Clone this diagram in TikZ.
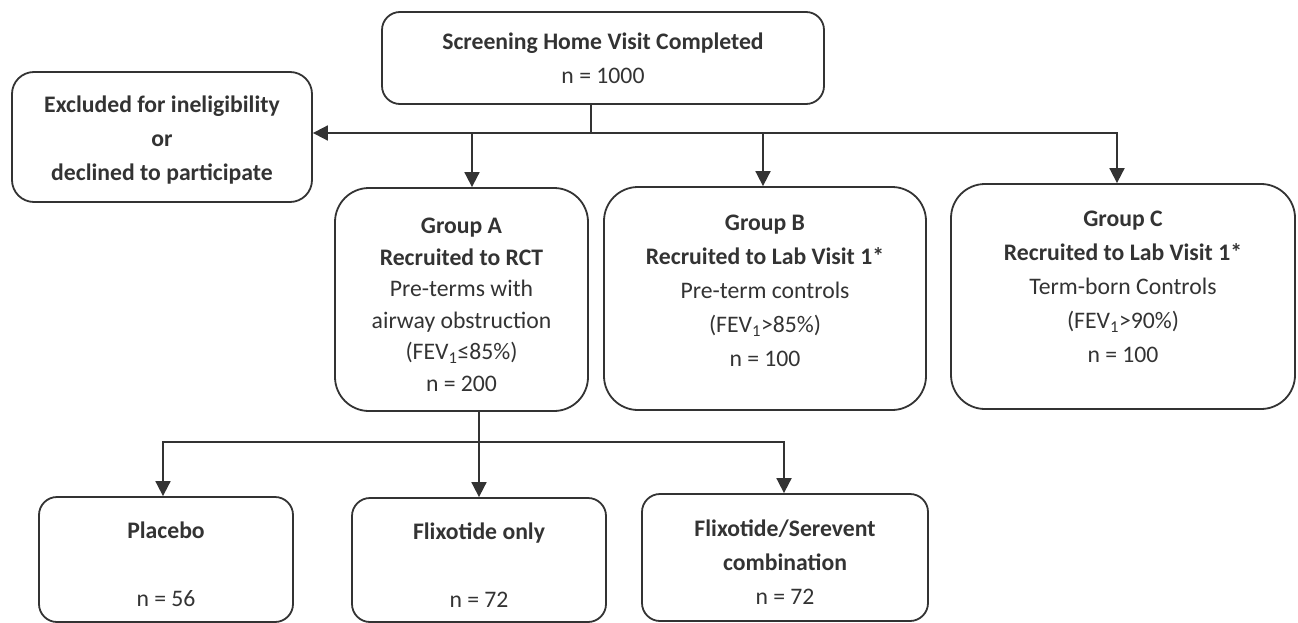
\documentclass[tikz,border=0pt]{standalone}
\usepackage{fontspec}
\setmainfont{Carlito}
\usetikzlibrary{arrows.meta}
\definecolor{ink}{HTML}{333333}
\tikzset{
  box/.style={draw=ink, line width=1.8pt, rounded corners=18pt, align=center,
    text=ink, inner sep=0pt, font=\fontsize{23.7}{34}\selectfont},
  grp/.style={box, rounded corners=34pt},
  conn/.style={draw=ink, line width=1.8pt},
  arr/.style={conn, -{Triangle[length=15pt,width=15pt]}}
}
\begin{document}
\begin{tikzpicture}[x=1pt, y=-1pt]
\useasboundingbox (0,0) rectangle (1298,623);

% screening and exclusion
\node[box, minimum width=442pt, minimum height=92pt] (top) at (603,58)
  {\textbf{Screening Home Visit Completed}\\n = 1000};
\node[box, rounded corners=22pt, minimum width=300pt, minimum height=130pt] (excl) at (162,137)
  {\mbox{}\\[-11pt]\textbf{Excluded for ineligibility}\\\textbf{or}\\\textbf{declined to participate}};

% study groups (empty first or last lines nudge the text block)
\node[grp, minimum width=253pt, minimum height=223pt, font=\fontsize{23.7}{31.5}\selectfont] (A) at (461.5,299.5)
  {\mbox{}\\[-5pt]\textbf{Group A}\\\textbf{Recruited to RCT}\\Pre-terms with\\airway obstruction\\(FEV\textsubscript{1}≤85\%)\\n = 200};
\node[grp, minimum width=322pt, minimum height=223pt] (B) at (765,298.5)
  {\textbf{Group B}\\\textbf{Recruited to Lab Visit 1*}\\Pre-term controls\\(FEV\textsubscript{1}>85\%)\\n = 100\\[-19pt]\mbox{}};
\node[grp, minimum width=344pt, minimum height=225pt] (C) at (1123,296.5)
  {\textbf{Group C}\\\textbf{Recruited to Lab Visit 1*}\\Term-born Controls\\(FEV\textsubscript{1}>90\%)\\n = 100\\[-15pt]\mbox{}};

% treatment arms
\node[box, minimum width=254pt, minimum height=125pt] (plac) at (166,559.5)
  {\mbox{}\\[-7pt]\textbf{Placebo}\\[34pt]n = 56};
\node[box, minimum width=254pt, minimum height=124pt] (fonly) at (479,560)
  {\mbox{}\\[-7pt]\textbf{Flixotide only}\\[34pt]n = 72};
\node[box, minimum width=286pt, minimum height=127pt] (ser) at (785,557.5)
  {\mbox{}\\[-9pt]\textbf{Flixotide/Serevent}\\\textbf{combination}\\n = 72};

% connectors from the screening visit
\coordinate (j1) at (591,133);
\coordinate (jA) at (472,133);
\coordinate (jB) at (763,133);
\coordinate (jC) at (1117,133);
\draw[conn] (j1 |- top.south) -- (j1);
\draw[arr] (j1) -- (j1 -| excl.east);
\draw[arr] (j1) -- (jC) -- (jC |- C.north);
\draw[arr] (jA) -- (jA |- A.north);
\draw[arr] (jB) -- (jB |- B.north);

% connectors from Group A to the arms
\coordinate (k) at (479,442);
\coordinate (kP) at (163,442);
\coordinate (kS) at (784,442);
\draw[conn] (k |- A.south) -- (k);
\draw[arr] (k) -- (kP) -- (kP |- plac.north);
\draw[arr] (k) -- (kS) -- (kS |- ser.north);
\draw[arr] (k) -- (k |- fonly.north);
\end{tikzpicture}
\end{document}
